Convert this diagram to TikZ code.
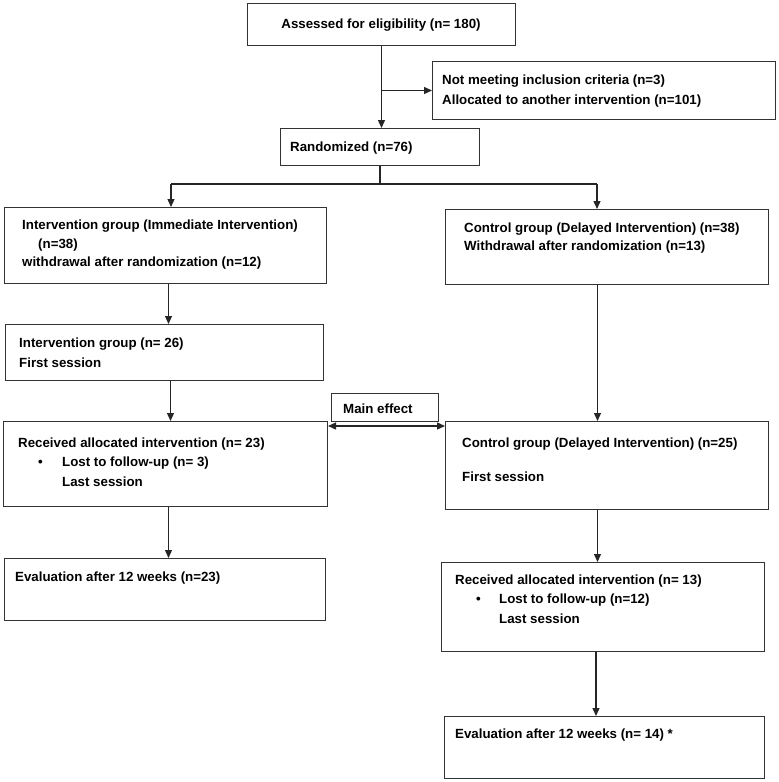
\documentclass[tikz,border=0pt]{standalone}
\usepackage{fontspec}
\setmainfont{Liberation Sans}
\usetikzlibrary{arrows.meta}
\begin{document}
\begin{tikzpicture}[x=1pt,y=-1pt,
 box/.style={draw=black!80, line width=1pt, inner sep=0pt, rectangle, anchor=north west},
 txt/.style={anchor=west, inner sep=0pt, yshift=-1.5pt, font=\fontsize{13.3}{15}\selectfont\bfseries},
 conn/.style={line width=1.3pt, draw=black!85},
 arr/.style={conn, -{Triangle[length=8pt,width=7pt]}},
 darr/.style={conn, {Triangle[length=8pt,width=7pt]}-{Triangle[length=8pt,width=7pt]}}
]
\useasboundingbox (0,0) rectangle (779,782);
% boxes
\node[box, minimum width=268pt, minimum height=42pt] (A) at (247,3) {};
\node[box, minimum width=343pt, minimum height=58pt] (B) at (432,61) {};
\node[box, minimum width=199pt, minimum height=37pt] (R) at (280,128) {};
\node[box, minimum width=322pt, minimum height=76pt] (IG1) at (4,207) {};
\node[box, minimum width=323pt, minimum height=75pt] (CG1) at (445,209) {};
\node[box, minimum width=318pt, minimum height=56pt] (IG2) at (5,324) {};
\node[box, minimum width=324pt, minimum height=85pt] (IG3) at (3,421) {};
\node[box, minimum width=107pt, minimum height=28pt] (ME) at (331,393) {};
\node[box, minimum width=323pt, minimum height=88pt] (CG2) at (445,421) {};
\node[box, minimum width=321pt, minimum height=62pt] (IG4) at (4,558) {};
\node[box, minimum width=323pt, minimum height=89pt] (CG3) at (441,562) {};
\node[box, minimum width=320pt, minimum height=62pt] (CG4) at (444,716) {};
% texts
\node[txt, anchor=center] (tA) at (381,24) {Assessed for eligibility (n= 180)};
\node[txt] (tB1) at (442,80) {Not meeting inclusion criteria (n=3)};
\node[txt] (tB2) at (442,100) {Allocated to another intervention (n=101)};
\node[txt] (tR) at (290,147) {Randomized (n=76)};
\node[txt] (tI1a) at (22,225) {Intervention group (Immediate Intervention)};
\node[txt] (tI1b) at (38,244) {(n=38)};
\node[txt] (tI1c) at (22,262) {withdrawal after randomization (n=12)};
\node[txt] (tC1a) at (464,228) {Control group (Delayed Intervention) (n=38)};
\node[txt] (tC1b) at (464,246) {Withdrawal after randomization (n=13)};
\node[txt] (tI2a) at (19,343) {Intervention group (n= 26)};
\node[txt] (tI2b) at (19,361) {First session};
\node[txt] (tI3a) at (18,443) {Received allocated intervention (n= 23)};
\node[txt] (tI3d) at (38,462) {•};
\node[txt] (tI3b) at (62,462) {Lost to follow-up (n= 3)};
\node[txt] (tI3c) at (62,480) {Last session};
\node[txt] (tME) at (343,407) {Main effect};
\node[txt] (tC2a) at (462,443) {Control group (Delayed Intervention) (n=25)};
\node[txt] (tC2b) at (462,475) {First session};
\node[txt] (tI4) at (15,577) {Evaluation after 12 weeks (n=23)};
\node[txt] (tC3a) at (455,580) {Received allocated intervention (n= 13)};
\node[txt] (tC3d) at (476,599) {•};
\node[txt] (tC3b) at (499,599) {Lost to follow-up (n=12)};
\node[txt] (tC3c) at (499,617) {Last session};
\node[txt] (tC4) at (455,734) {Evaluation after 12 weeks (n= 14) *};
% connectors
\draw[arr] (A.south) -- (A.south |- R.north);
\draw[arr] (A.south |- B.west) -- (B.west);
\coordinate (s1) at (171,184);
\coordinate (s2) at (597,184);
\draw[conn] (R.south) -- (R.south |- s1);
\draw[conn] (s1) -- (s2);
\draw[arr] (s1) -- (s1 |- IG1.north);
\draw[arr] (s2) -- (s2 |- CG1.north);
\draw[arr] ([xshift=3pt]IG1.south) -- ([xshift=3pt]IG1.south |- IG2.north);
\draw[arr] ([xshift=6pt]IG2.south) -- ([xshift=6pt]IG2.south |- IG3.north);
\draw[arr] ([xshift=-9.5pt]CG1.south) -- ([xshift=-9.5pt]CG1.south |- CG2.north);
\draw[arr] ([xshift=3pt]IG3.south) -- ([xshift=3pt]IG3.south |- IG4.north);
\draw[arr] ([xshift=-9.5pt]CG2.south) -- ([xshift=-9.5pt]CG2.south |- CG3.north);
\draw[arr] ([xshift=-7pt]CG3.south) -- ([xshift=-7pt]CG3.south |- CG4.north);
\draw[darr] ([yshift=-5pt]IG3.north east) -- ([yshift=-5pt]IG3.north east -| CG2.west);
\end{tikzpicture}
\end{document}
